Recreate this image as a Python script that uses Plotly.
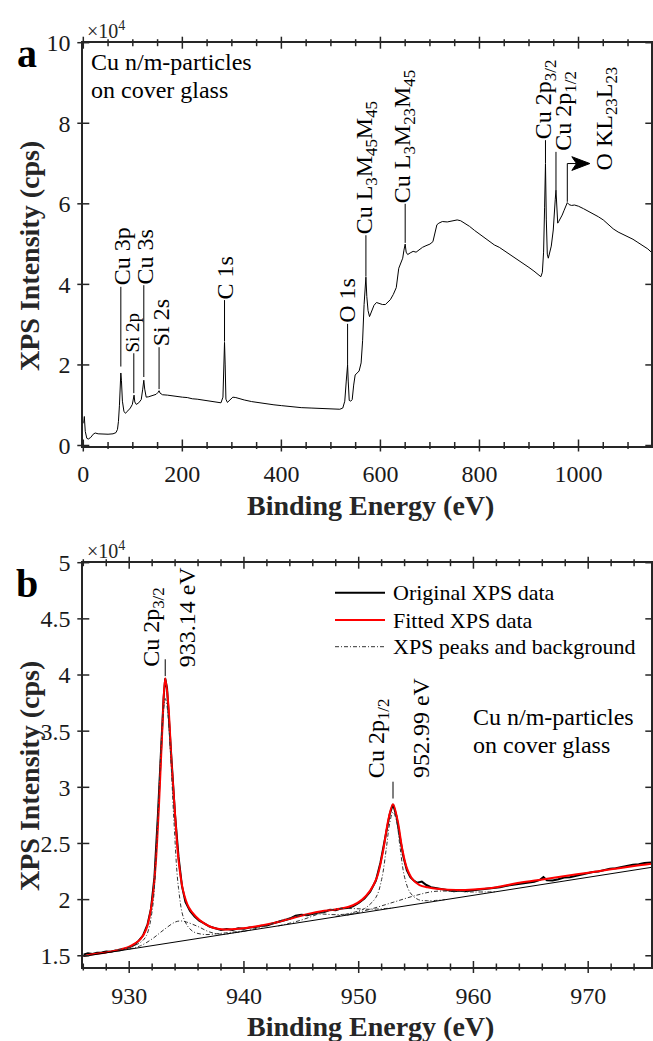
import plotly.graph_objects as go

W, H = 653, 1041
SERIF = "Liberation Serif"
INK = "#262626"
RED = "#ff0000"

# ---------------- survey spectrum: binding energy (eV), intensity (x1e4 cps)
survey_be = [0, 2, 4, 7, 10, 15, 20, 24, 30, 40, 50, 60, 66, 69, 71, 73, 74.5, 75.8,
             77, 79, 82, 85, 90, 95, 99, 101, 102.5, 104, 107, 112, 117, 120, 122.2,
             124, 127, 132, 140, 147, 151, 153, 155, 160, 170, 180, 190, 200, 210, 220,
             230, 240, 250, 260, 270, 278, 282, 284, 285.2, 286.5, 288, 291, 296, 302,
             308, 315, 325, 340, 355, 370, 385, 400, 420, 440, 460, 480, 500, 510, 518,
             524, 528, 531, 533.7, 535, 537, 540, 543, 546, 549, 553, 557, 561, 564,
             567, 570.7, 572.5, 575, 578, 582, 587, 592, 598, 604, 610, 615, 620, 626,
             632, 637, 642, 645, 647.5, 650, 652, 655, 660, 666, 672, 678, 685, 692,
             700, 706, 710, 714, 718, 725, 735, 745, 755, 762, 770, 780, 790, 800, 810,
             820, 830, 840, 850, 860, 870, 880, 890, 900, 910, 918, 924, 927, 929.5,
             931.5, 933.3, 935, 937, 939, 942, 945, 949, 951.5, 953, 954.5, 956.5, 958,
             960, 963, 967, 971, 974, 977.4, 981, 986, 992, 1000, 1010, 1020, 1030,
             1040, 1050, 1060, 1070, 1080, 1090, 1100, 1110, 1120, 1130, 1140, 1147]
survey_int = [0.55, 0.72, 0.35, 0.18, 0.16, 0.20, 0.28, 0.31, 0.29, 0.28, 0.28, 0.29,
              0.32, 0.40, 0.60, 1.00, 1.45, 1.80, 1.62, 1.10, 0.85, 0.80, 0.86, 0.93,
              1.02, 1.12, 1.25, 1.08, 1.02, 1.06, 1.14, 1.40, 1.62, 1.40, 1.20, 1.21,
              1.25, 1.27, 1.32, 1.36, 1.30, 1.26, 1.25, 1.23, 1.22, 1.20, 1.19, 1.16,
              1.15, 1.13, 1.11, 1.10, 1.07, 1.06, 1.20, 2.20, 2.56, 2.00, 1.15, 1.07,
              1.12, 1.20, 1.19, 1.16, 1.13, 1.09, 1.06, 1.03, 1.01, 0.99, 0.96, 0.94,
              0.93, 0.92, 0.91, 0.89, 0.90, 0.93, 1.10, 1.60, 2.00, 1.60, 1.12, 1.10,
              1.14, 1.50, 1.75, 1.80, 1.85, 2.05, 2.60, 3.50, 4.18, 3.70, 3.35, 3.20,
              3.32, 3.48, 3.55, 3.52, 3.50, 3.50, 3.55, 3.62, 3.75, 3.92, 4.40, 4.55,
              4.65, 4.85, 5.00, 4.80, 4.74, 4.78, 4.82, 4.80, 4.86, 4.92, 4.96, 5.00,
              5.06, 5.30, 5.48, 5.52, 5.56, 5.55, 5.58, 5.60, 5.58, 5.52, 5.44, 5.34,
              5.25, 5.15, 5.06, 4.98, 4.92, 4.84, 4.74, 4.66, 4.58, 4.50, 4.42, 4.33,
              4.25, 4.19, 4.30, 4.80, 5.90, 7.00, 5.60, 4.75, 4.65, 4.77, 4.95, 5.35,
              5.70, 6.10, 6.34, 5.90, 5.52, 5.56, 5.62, 5.72, 5.84, 5.95, 6.03, 5.98,
              5.96, 5.97, 5.94, 5.88, 5.82, 5.75, 5.68, 5.60, 5.48, 5.38, 5.30, 5.24,
              5.19, 5.12, 5.04, 4.96, 4.88, 4.80]

# survey peak assignments: text, energy of text column, intensity where text starts, size
survey_text = ["Cu 3p", "Si 2p", "Cu 3s", "Si 2s", "C 1s", "O 1s",
               "Cu L<sub>3</sub>M<sub>45</sub>M<sub>45</sub>",
               "Cu L<sub>3</sub>M<sub>23</sub>M<sub>45</sub>",
               "Cu 2p<sub>3/2</sub>", "Cu 2p<sub>1/2</sub>",
               "O KL<sub>23</sub>L<sub>23</sub>"]
survey_text_be = [77.2, 99.0, 124.2, 156.0, 286.0, 533.3, 562.0, 639.4, 923.2, 965.3, 1047.0]
survey_text_y = [3.94, 2.29, 3.98, 2.44, 3.61, 3.02, 5.22, 6.00, 7.58, 7.29, 6.80]
survey_text_size = [24, 19, 24, 24, 24, 24, 24, 24, 24, 24, 24]
# leader lines: energy, lower and upper intensity
leader_be = [75.8, 102.0, 122.2, 153.0, 285.2, 533.7, 570.7, 650.0, 933.3, 954.5]
leader_lo = [1.96, 1.30, 1.70, 1.40, 2.58, 2.00, 4.19, 5.03, 7.01, 6.34]
leader_hi = [3.94, 2.29, 3.98, 2.44, 3.61, 3.02, 5.22, 6.00, 7.58, 7.29]
# O KLL bent pointer: column energy, low/high intensity, elbow energy, arrow tip energy
okll_be, okll_lo, okll_hi, okll_elbow, okll_tip = 977.4, 6.05, 7.00, 996.0, 1023.0

# ---------------- Cu 2p high-resolution region
cu2p_be = [926.0, 926.4, 926.8, 927.2, 927.6, 928.0, 928.4, 928.8, 929.2, 929.6, 930.0,
           930.4, 930.8, 931.2, 931.6, 931.9, 932.2, 932.5, 932.8, 933.0, 933.14, 933.3,
           933.5, 933.8, 934.0, 934.3, 934.6, 934.9, 935.3, 935.7, 936.1, 936.5, 937.0,
           937.5, 938.0, 938.5, 939.0, 939.5, 940.0, 940.5, 941.0, 941.5, 942.0, 942.5,
           943.0, 943.5, 944.0, 944.5, 945.0, 945.5, 946.0, 946.5, 947.0, 947.5, 948.0,
           948.5, 949.0, 949.5, 950.0, 950.5, 951.0, 951.5, 951.9, 952.3, 952.7, 952.99,
           953.3, 953.6, 953.9, 954.2, 954.5, 954.8, 955.1, 955.5, 955.9, 956.3, 956.8,
           957.3, 957.8, 958.3, 958.8, 959.3, 959.8, 960.3, 960.8, 961.3, 961.8, 962.3,
           962.8, 963.3, 963.8, 964.3, 964.8, 965.3, 965.8, 966.1, 966.4, 966.9, 967.4,
           967.9, 968.4, 968.9, 969.4, 969.9, 970.4, 970.9, 971.4, 971.9, 972.4, 972.9,
           973.4, 973.9, 974.4, 974.9, 975.5]
cu2p_int = [1.510, 1.522, 1.515, 1.527, 1.530, 1.538, 1.536, 1.547, 1.550, 1.562, 1.575,
            1.595, 1.630, 1.680, 1.780, 1.920, 2.200, 2.750, 3.400, 3.800, 3.970, 3.880,
            3.550, 3.000, 2.750, 2.380, 2.120, 1.980, 1.900, 1.850, 1.812, 1.790, 1.760,
            1.745, 1.730, 1.738, 1.730, 1.745, 1.740, 1.752, 1.755, 1.767, 1.770, 1.787,
            1.800, 1.812, 1.830, 1.857, 1.865, 1.860, 1.876, 1.886, 1.890, 1.910, 1.905,
            1.922, 1.925, 1.940, 1.970, 2.010, 2.070, 2.170, 2.330, 2.550, 2.760, 2.850,
            2.740, 2.550, 2.380, 2.260, 2.200, 2.170, 2.150, 2.160, 2.130, 2.110, 2.100,
            2.090, 2.085, 2.075, 2.082, 2.075, 2.081, 2.086, 2.092, 2.100, 2.106, 2.110,
            2.122, 2.130, 2.136, 2.142, 2.150, 2.160, 2.176, 2.200, 2.172, 2.170, 2.182,
            2.196, 2.200, 2.212, 2.220, 2.236, 2.246, 2.250, 2.262, 2.276, 2.280, 2.292,
            2.300, 2.311, 2.316, 2.326, 2.330]

fit_be = [926.0, 927.0, 928.0, 929.0, 930.0, 930.5, 931.0, 931.5, 932.0, 932.3, 932.6,
          932.9, 933.14, 933.4, 933.7, 934.0, 934.3, 934.7, 935.2, 935.8, 936.5, 937.3,
          938.2, 939.5, 941.0, 942.5, 944.0, 945.5, 947.0, 948.5, 949.5, 950.3, 951.0,
          951.6, 952.1, 952.6, 952.99, 953.4, 953.8, 954.2, 954.7, 955.3, 956.0, 957.0,
          958.5, 960.0, 962.0, 964.0, 966.0, 968.0, 970.0, 972.0, 974.0, 975.5]
fit_int = [1.497, 1.515, 1.530, 1.550, 1.580, 1.610, 1.650, 1.740, 1.980, 2.300, 2.850,
           3.550, 3.970, 3.750, 3.200, 2.750, 2.350, 2.080, 1.930, 1.850, 1.790, 1.750,
           1.735, 1.740, 1.760, 1.790, 1.830, 1.870, 1.900, 1.920, 1.950, 2.000, 2.080,
           2.200, 2.420, 2.720, 2.850, 2.700, 2.450, 2.280, 2.180, 2.130, 2.110, 2.095,
           2.085, 2.090, 2.110, 2.150, 2.180, 2.210, 2.240, 2.270, 2.300, 2.320]

# fitted components and linear background
bg_be = [926.0, 975.5]
bg_int = [1.494, 2.287]
comp_be = [
    [929.0, 930.0, 931.0, 931.5, 932.0, 932.4, 932.7, 933.0, 933.14, 933.3, 933.6, 933.9,
     934.3, 934.8, 935.5, 936.5, 938.0, 940.0],
    [930.0, 931.0, 932.0, 933.0, 934.0, 934.5, 935.0, 936.0, 937.0, 938.0, 939.0, 940.0],
    [940.0, 942.0, 943.5, 945.0, 946.5, 948.0, 950.0],
    [943.0, 945.0, 946.5, 948.0, 949.5, 951.0, 953.0],
    [948.0, 949.5, 950.5, 951.5, 952.0, 952.4, 952.7, 952.99, 953.3, 953.6, 954.0, 954.5,
     955.2, 956.0, 957.5],
    [949.0, 951.0, 953.0, 955.0, 956.5, 958.0, 960.0, 962.0],
]
comp_int = [
    [1.555, 1.575, 1.620, 1.680, 1.900, 2.500, 3.200, 3.700, 3.790, 3.720, 3.300, 2.700,
     2.100, 1.820, 1.720, 1.690, 1.700, 1.722],
    [1.560, 1.590, 1.650, 1.730, 1.800, 1.810, 1.800, 1.760, 1.712, 1.692, 1.702, 1.718],
    [1.718, 1.770, 1.824, 1.858, 1.872, 1.866, 1.878],
    [1.766, 1.818, 1.872, 1.916, 1.920, 1.914, 1.926],
    [1.850, 1.885, 1.920, 2.020, 2.180, 2.450, 2.680, 2.780, 2.700, 2.470, 2.200, 2.060,
     2.000, 1.990, 2.000],
    [1.862, 1.914, 1.976, 2.038, 2.072, 2.076, 2.068, 2.070],
]

# Cu 2p assignments: text, energy of text column, intensity where text starts
hr_text = ["Cu 2p<sub>3/2</sub>", "933.14 eV", "Cu 2p<sub>1/2</sub>", "952.99 eV"]
hr_text_be = [931.73, 935.0, 951.35, 955.44]
hr_text_y = [4.06, 4.06, 3.07, 3.07]
hr_leader_be = [933.14, 952.99]
hr_leader_lo = [3.99, 2.90]
hr_leader_hi = [4.14, 3.05]

legend_names = ["Original XPS data", "Fitted XPS data", "XPS peaks and background"]

# axis ranges and tick positions
survey_x_range, survey_y_range = [0, 1147], [0, 10]
hr_x_range, hr_y_range = [926, 975.5], [1.4, 5]
survey_x_major = [0, 200, 400, 600, 800, 1000]
survey_x_minor = [v for v in range(50, 1147, 50) if v % 200]
survey_y_major = [0, 2, 4, 6, 8, 10]
hr_x_major = [930, 940, 950, 960, 970]
hr_x_minor = [v for v in range(926, 976, 2) if v % 10]
hr_y_major = [1.5, 2, 2.5, 3, 3.5, 4, 4.5, 5]

# ---------------- page geometry (pixels -> paper fractions)
def fx(px):
    return px / W


def fy(py):
    return 1 - py / H


PX_L, PX_R = 83.3, 651.3
PA_T, PA_B = 42.7, 445.5
PB_T, PB_B = 562.7, 967.0
X_DOM = [fx(PX_L), fx(PX_R)]
YA_DOM = [fy(PA_B), fy(PA_T)]
YB_DOM = [fy(PB_B), fy(PB_T)]
DASHDOT = "4px,2px,1px,2px"

fig = go.Figure()

# survey panel
fig.add_trace(go.Scatter(x=survey_be, y=survey_int, mode="lines",
                         line=dict(color="black", width=1), xaxis="x", yaxis="y",
                         showlegend=False, hoverinfo="skip"))

# high-resolution panel
fig.add_trace(go.Scatter(x=cu2p_be, y=cu2p_int, mode="lines",
                         line=dict(color="black", width=2), xaxis="x2", yaxis="y2",
                         showlegend=False))
fig.add_trace(go.Scatter(x=fit_be, y=fit_int, mode="lines", line_shape="spline",
                         line=dict(color=RED, width=2), xaxis="x2", yaxis="y2",
                         showlegend=False))
for cb, ci in zip(comp_be, comp_int):
    fig.add_trace(go.Scatter(x=cb, y=ci, mode="lines", line_shape="spline",
                             line=dict(color="#333333", width=1, dash=DASHDOT),
                             xaxis="x2", yaxis="y2", showlegend=False))
fig.add_trace(go.Scatter(x=bg_be, y=bg_int, mode="lines",
                         line=dict(color="black", width=1), xaxis="x2", yaxis="y2",
                         showlegend=False))


def frame_axis(**kw):
    # tick marks are drawn as crossing shapes below; axis ticks only space the labels
    ax = dict(showline=True, linecolor=INK, linewidth=2, mirror=True,
              ticks="outside", ticklen=6, tickwidth=1, tickcolor="rgba(0,0,0,0)",
              showgrid=False, zeroline=False, fixedrange=True, automargin=False,
              tickmode="array",
              tickfont=dict(family=SERIF, size=24, color="#1a1a1a"))
    ax.update(kw)
    return ax


fig.update_layout(
    width=W, height=H, margin=dict(l=0, r=0, t=0, b=0, pad=0, autoexpand=False),
    paper_bgcolor="white", plot_bgcolor="white", showlegend=False,
    font=dict(family=SERIF, color="#1a1a1a"),
    xaxis=frame_axis(domain=X_DOM, range=survey_x_range, anchor="y",
                     tickvals=survey_x_major),
    yaxis=frame_axis(domain=YA_DOM, range=survey_y_range, anchor="x",
                     tickvals=survey_y_major),
    xaxis2=frame_axis(domain=X_DOM, range=hr_x_range, anchor="y2", tickvals=hr_x_major),
    yaxis2=frame_axis(domain=YB_DOM, range=hr_y_range, anchor="x2", tickvals=hr_y_major),
)

ann = []
shapes = []


def tick_marks(xr, yr, ydom, xvals, yvals, x_minor, major_len=6.0, minor_len=3.5):
    """Crossing tick marks on all four sides of a panel, in paper units."""
    out = []

    def px_x(v):
        return X_DOM[0] + (v - xr[0]) / (xr[1] - xr[0]) * (X_DOM[1] - X_DOM[0])

    def px_y(v):
        return ydom[0] + (v - yr[0]) / (yr[1] - yr[0]) * (ydom[1] - ydom[0])

    for vals, ln in ((xvals, major_len), (x_minor, minor_len)):
        d = ln / H
        for v in vals:
            for base in ydom:
                out.append(dict(type="line", xref="paper", yref="paper",
                                x0=px_x(v), x1=px_x(v), y0=base - d, y1=base + d,
                                line=dict(color=INK, width=1.5)))
    d = major_len / W
    for v in yvals:
        for base in X_DOM:
            out.append(dict(type="line", xref="paper", yref="paper",
                            x0=base - d, x1=base + d, y0=px_y(v), y1=px_y(v),
                            line=dict(color=INK, width=1.5)))
    return out


shapes += tick_marks(survey_x_range, survey_y_range, YA_DOM, survey_x_major,
                     survey_y_major, survey_x_minor)
shapes += tick_marks(hr_x_range, hr_y_range, YB_DOM, hr_x_major, hr_y_major, hr_x_minor)

# survey peak labels and leaders
for t, e, yv, s in zip(survey_text, survey_text_be, survey_text_y, survey_text_size):
    ann.append(dict(text=t, x=e, y=yv, xref="x", yref="y", textangle=-90,
                    xanchor="center", yanchor="bottom", showarrow=False, borderpad=0,
                    xshift=4 if "<sub>" in t else 0,
                    font=dict(family=SERIF, size=s, color="black")))
for e, lo, hi in zip(leader_be, leader_lo, leader_hi):
    shapes.append(dict(type="line", xref="x", yref="y", x0=e, x1=e, y0=lo, y1=hi,
                       line=dict(color="black", width=1)))
shapes.append(dict(type="path", xref="x", yref="y",
                   path=f"M{okll_be},{okll_lo} L{okll_be},{okll_hi} L{okll_elbow},{okll_hi}",
                   line=dict(color="black", width=1)))
head_back = okll_elbow - 0.35 * (okll_tip - okll_elbow)
shapes.append(dict(type="path", xref="x", yref="y", fillcolor="black",
                   path=(f"M{okll_tip},{okll_hi} L{head_back},{okll_hi + 0.17} "
                         f"L{okll_elbow},{okll_hi} L{head_back},{okll_hi - 0.17} Z"),
                   line=dict(color="black", width=1)))

# Cu 2p labels and leaders
for t, e, yv in zip(hr_text, hr_text_be, hr_text_y):
    ann.append(dict(text=t, x=e, y=yv, xref="x2", yref="y2", textangle=-90,
                    xanchor="center", yanchor="bottom", showarrow=False, borderpad=0,
                    xshift=4 if "<sub>" in t else 0,
                    font=dict(family=SERIF, size=24, color="black")))
for e, lo, hi in zip(hr_leader_be, hr_leader_lo, hr_leader_hi):
    shapes.append(dict(type="line", xref="x2", yref="y2", x0=e, x1=e, y0=lo, y1=hi,
                       line=dict(color="black", width=1)))

# legend drawn as line samples with captions
legend_rows = [592.7, 620.0, 646.7]
legend_styles = [dict(color="black", width=2), dict(color=RED, width=2),
                 dict(color="#333333", width=1, dash=DASHDOT)]
for name, row, st in zip(legend_names, legend_rows, legend_styles):
    shapes.append(dict(type="line", xref="paper", yref="paper", x0=fx(335), x1=fx(385),
                       y0=fy(row), y1=fy(row), line=st))
    ann.append(dict(text=name, x=fx(392), y=fy(row), xref="paper", yref="paper",
                    xanchor="left", yanchor="middle", showarrow=False, borderpad=0,
                    font=dict(family=SERIF, size=22, color="black")))

# sample notes
for line, x0, yc in [("Cu n/m-particles", 90, 62), ("on cover glass", 90, 90),
                     ("Cu n/m-particles", 471.7, 717), ("on cover glass", 471.7, 745)]:
    ann.append(dict(text=line, x=fx(x0), y=fy(yc), xref="paper", yref="paper",
                    xanchor="left", yanchor="middle", showarrow=False, borderpad=0,
                    font=dict(family=SERIF, size=24, color="black")))

# exponent markers
for top in (PA_T, PB_T):
    ann.append(dict(text="\u00d710<sup>4</sup>", x=fx(86), y=fy(top), xref="paper",
                    yref="paper", xanchor="left", yanchor="bottom", showarrow=False,
                    borderpad=0, font=dict(family=SERIF, size=20, color=INK)))

# panel letters
for letter, yc in [("a", 53.5), ("b", 583.5)]:
    ann.append(dict(text=f"<b>{letter}</b>", x=fx(27), y=fy(yc), xref="paper",
                    yref="paper", xanchor="center", yanchor="middle", showarrow=False,
                    borderpad=0, font=dict(family=SERIF, size=40, color="black")))

# axis titles
for yc in (505, 1026):
    ann.append(dict(text="<b>Binding Energy (eV)</b>", x=fx(371), y=fy(yc),
                    xref="paper", yref="paper", xanchor="center", yanchor="middle",
                    showarrow=False, borderpad=0,
                    font=dict(family=SERIF, size=28, color=INK)))
for yc in (256, 776):
    ann.append(dict(text="<b>XPS Intensity (cps)</b>", x=fx(29), y=fy(yc),
                    xref="paper", yref="paper", xanchor="center", yanchor="middle",
                    textangle=-90, showarrow=False, borderpad=0,
                    font=dict(family=SERIF, size=28, color=INK)))

fig.update_layout(annotations=ann, shapes=shapes)
fig.write_html("out.html")
